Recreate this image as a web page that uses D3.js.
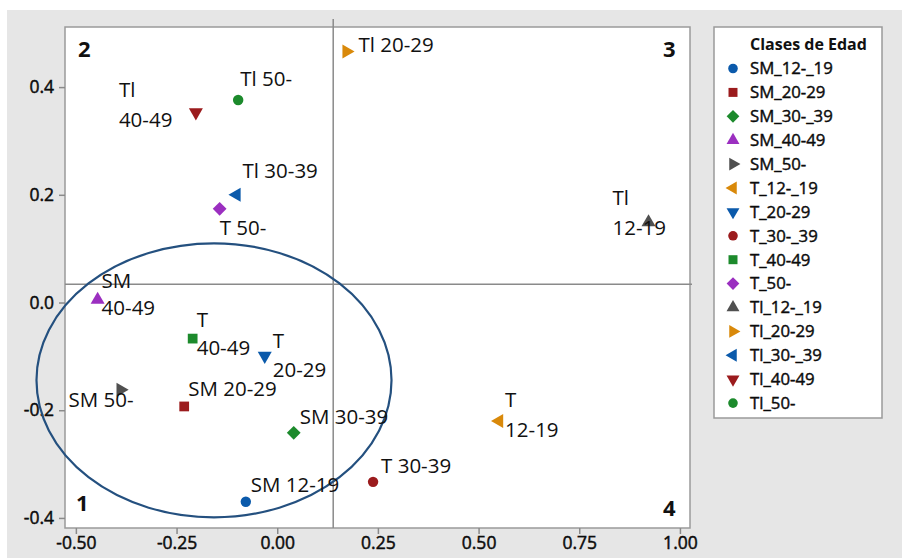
<!DOCTYPE html>
<html>
<head>
<meta charset="utf-8">
<script src="https://cdn.jsdelivr.net/npm/d3@7"></script>
<style>
  html, body { margin: 0; padding: 0; background: #ffffff; }
  svg { display: block; }
  text { font-family: "Open Sans", "Noto Sans", sans-serif; fill: #111; }
</style>
</head>
<body>
<svg id="chart" width="902" height="558"></svg>
<script>
// ---------- data ----------
const categories = ["SM_12-_19","SM_20-29","SM_30-_39","SM_40-49","SM_50-",
                    "T_12-_19","T_20-29","T_30-_39","T_40-49","T_50-",
                    "Tl_12-_19","Tl_20-29","Tl_30-_39","Tl_40-49","Tl_50-"];
const xValues = [-0.078,-0.231, 0.041,-0.446,-0.389,
                  0.551,-0.031, 0.238,-0.210,-0.143,
                  0.922, 0.172,-0.101,-0.202,-0.097];
const yValues = [-0.370,-0.193,-0.242, 0.005,-0.162,
                 -0.220,-0.099,-0.333,-0.067, 0.174,
                  0.149, 0.466, 0.200, 0.353, 0.376];
const pointLabels = [["SM 12-19"],["SM 20-29"],["SM 30-39"],["SM","40-49"],["SM 50-"],
                     ["T","12-19"],["T","20-29"],["T 30-39"],["T","40-49"],["T 50-"],
                     ["Tl","12-19"],["Tl 20-29"],["Tl 30-39"],["Tl","40-49"],["Tl 50-"]];
const xTickValues = [-0.5,-0.25,0,0.25,0.5,0.75,1.0];
const xTickLabels = ["-0.50","-0.25","0.00","0.25","0.50","0.75","1.00"];
const yTickValues = [-0.4,-0.2,0,0.2,0.4];
const yTickLabels = ["-0.4","-0.2","0.0","0.2","0.4"];
const refX = 0.139, refY = 0.034;
const ellipseCenter = [-0.157, -0.1445], ellipseRadii = [0.4408, 0.2544];
const legendTitle = "Clases de Edad";
const quadrantLabels = ["1","2","3","4"];

// ---------- style / layout ----------
const colors = {blue:"#0b5aab", red:"#9b1b1d", green:"#1c8a2c", purple:"#9b2fc0", grey:"#505050", orange:"#d9890a"};
const styleOf = [
  {shape:"circle", c:colors.blue},  {shape:"square", c:colors.red},   {shape:"diamond", c:colors.green},
  {shape:"up", c:colors.purple},    {shape:"right", c:colors.grey},   {shape:"left", c:colors.orange},
  {shape:"down", c:colors.blue},    {shape:"circle", c:colors.red},   {shape:"square", c:colors.green},
  {shape:"diamond", c:colors.purple},{shape:"up", c:colors.grey},     {shape:"right", c:colors.orange},
  {shape:"left", c:colors.blue},    {shape:"down", c:colors.red},     {shape:"circle", c:colors.green}
];
// label offsets in px: [dx, dy(first baseline), lineHeight]
const labelOffsets = [
  [5,-10,0],[4,-10,0],[6,-9,0],[4,-12,27],[-52,17,0],
  [6,-14,30],[8,-8,29],[8,-9,0],[4,-12,28],[0,26,0],
  [-36,-17,30],[12,0,0],[6,-17,0],[-77,-15,30],[2,-14,0]
];

const svg = d3.select("#chart");
const plot = {l:65, t:27, r:690, b:528};

svg.append("rect").attr("x",7).attr("y",10).attr("width",895).attr("height",548).attr("fill","#e6e6e6");
svg.append("rect").attr("x",plot.l).attr("y",plot.t).attr("width",plot.r-plot.l).attr("height",plot.b-plot.t)
   .attr("fill","#fff").attr("stroke","#9a9a9a").attr("stroke-width",1.5);

const x = d3.scaleLinear().domain([-0.527, 1.025]).range([plot.l, plot.r]);
const y = d3.scaleLinear().domain([-0.4187, 0.5116]).range([plot.b, plot.t]);

// axes
const xAxis = d3.axisBottom(x).tickValues(xTickValues).tickFormat((d,i)=>xTickLabels[i]).tickSizeInner(6).tickSizeOuter(0).tickPadding(3);
const yAxis = d3.axisLeft(y).tickValues(yTickValues).tickFormat((d,i)=>yTickLabels[i]).tickSizeInner(6).tickSizeOuter(0).tickPadding(5);
const gx = svg.append("g").attr("transform",`translate(0,${plot.b})`).call(xAxis);
const gy = svg.append("g").attr("transform",`translate(${plot.l},0)`).call(yAxis);
[gx,gy].forEach(g=>{
  g.select(".domain").remove();
  g.selectAll(".tick line").attr("stroke","#8a8a8a").attr("stroke-width",1.5);
  g.selectAll(".tick text").style("font-family","'Open Sans', sans-serif").style("font-size","17.5px")
   .attr("fill","#000").attr("stroke","#000").attr("stroke-width",0.45);
});

// reference lines
svg.append("line").attr("x1",x(refX)).attr("x2",x(refX)).attr("y1",plot.t-8).attr("y2",plot.b)
   .attr("stroke","#8a8a8a").attr("stroke-width",1.5);
svg.append("line").attr("x1",plot.l).attr("x2",plot.r+2).attr("y1",y(refY)).attr("y2",y(refY))
   .attr("stroke","#8a8a8a").attr("stroke-width",1.5);

// ellipse
svg.append("ellipse").attr("cx",x(ellipseCenter[0])).attr("cy",y(ellipseCenter[1]))
   .attr("rx",x(ellipseCenter[0]+ellipseRadii[0])-x(ellipseCenter[0]))
   .attr("ry",y(ellipseCenter[1])-y(ellipseCenter[1]+ellipseRadii[1]))
   .attr("fill","none").attr("stroke","#24507f").attr("stroke-width",2.2);

// quadrant numbers
const qpos = [[plot.l+11, plot.b-17],[plot.l+13, plot.t+30],[plot.r-27, plot.t+30],[plot.r-27, plot.b-12]];
quadrantLabels.forEach((q,i)=>{
  svg.append("text").attr("x",qpos[i][0]).attr("y",qpos[i][1]).text(q)
     .style("font-size","22px").style("font-weight","700").attr("fill","#000");
});

function symbolPath(shape, scale){
  const s = scale||1;
  if (shape==="circle") return d3.symbol(d3.symbolCircle, 85*s)();
  if (shape==="square" || shape==="diamond") return d3.symbol(d3.symbolSquare, 95*s)();
  return d3.symbol(d3.symbolTriangle, 85*s)();
}
function rot(shape){
  return {diamond:45, right:90, down:180, left:-90}[shape] || 0;
}

// points
const pts = svg.append("g");
categories.forEach((c,i)=>{
  const st = styleOf[i];
  pts.append("path").attr("d",symbolPath(st.shape))
     .attr("transform",`translate(${x(xValues[i])},${y(yValues[i])}) rotate(${rot(st.shape)})`)
     .attr("fill",st.c);
});
// point labels
categories.forEach((c,i)=>{
  const o = labelOffsets[i];
  const t = svg.append("text").attr("x",x(xValues[i])+o[0]).attr("y",y(yValues[i])+o[1])
     .style("font-size","20.5px");
  pointLabels[i].forEach((line,j)=>{
    t.append("tspan").attr("x",x(xValues[i])+o[0]).attr("dy", j===0?0:o[2]).text(line);
  });
});

// legend
const lg = {l:714, t:27, r:882, b:418};
svg.append("rect").attr("x",lg.l).attr("y",lg.t).attr("width",lg.r-lg.l).attr("height",lg.b-lg.t)
   .attr("fill","#fff").attr("stroke","#9a9a9a").attr("stroke-width",1.5);
svg.append("text").attr("x",750).attr("y",50).text(legendTitle).style("font-size","16px").style("font-weight","700").attr("fill","#000");
categories.forEach((c,i)=>{
  const cy = 68.5 + i*23.9;
  const st = styleOf[i];
  svg.append("path").attr("d",symbolPath(st.shape,0.85))
     .attr("transform",`translate(733,${cy}) rotate(${rot(st.shape)})`).attr("fill",st.c);
  svg.append("text").attr("x",750).attr("y",cy).attr("dy","0.35em").text(c)
     .style("font-size","16.8px").attr("fill","#000").attr("stroke","#000").attr("stroke-width",0.4);
});
</script>
</body>
</html>
